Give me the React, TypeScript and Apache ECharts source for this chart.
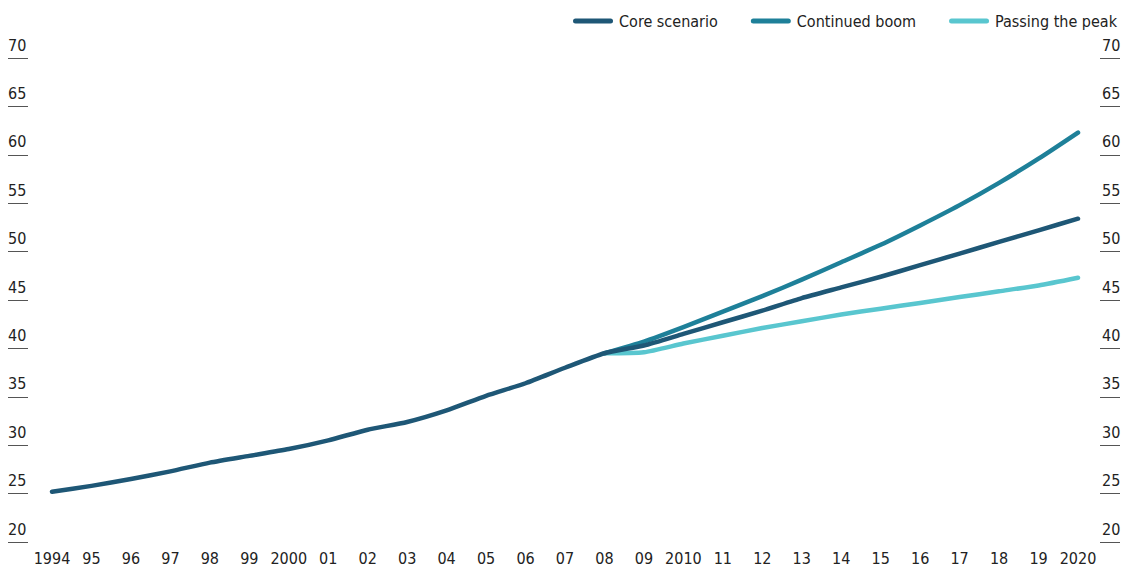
import React, { useEffect, useRef } from "react";
import * as echarts from "echarts";

const years = ["1994","95","96","97","98","99","2000","01","02","03","04","05","06","07","08","09","2010","11","12","13","14","15","16","17","18","19","2020"];

const coreScenario = [25.2,25.8,26.5,27.3,28.2,28.9,29.6,30.5,31.6,32.4,33.6,35.1,36.4,38.0,39.5,40.3,41.5,42.7,43.9,45.2,46.3,47.4,48.6,49.8,51.0,52.2,53.4];
const continuedBoom = [null,null,null,null,null,null,null,null,null,null,null,null,null,null,39.5,40.7,42.2,43.8,45.4,47.1,48.9,50.7,52.7,54.8,57.1,59.6,62.3];
const passingPeak = [null,null,null,null,null,null,null,null,null,null,null,null,null,null,39.5,39.6,40.5,41.3,42.1,42.8,43.5,44.1,44.7,45.3,45.9,46.5,47.3];

const yMin = 20;
const yMax = 70;
const yStep = 5;

const FONT = "'Liberation Sans Narrow', 'DejaVu Sans Condensed', 'Roboto Condensed', sans-serif";
const C_CORE = "#1e5776";
const C_BOOM = "#1e8099";
const C_PEAK = "#59c6cf";

const legendIcon = "path://M2.5,0 H37.5 A2.5,2.5 0 0 1 37.5,5 H2.5 A2.5,2.5 0 0 1 2.5,0 Z";

export default function App() {
  const ref = useRef<HTMLDivElement>(null);
  useEffect(() => {
    if (!ref.current) return;
    const chart = echarts.init(ref.current, null, { renderer: "svg" });
    const yAxisCommon = {
      type: "value",
      min: yMin,
      max: yMax,
      interval: yStep,
      splitLine: { show: false },
      axisLine: { show: false },
      axisTick: { show: true, length: 20, lineStyle: { color: "#555", width: 1 } },
    };
    chart.setOption({
      animation: false,
      textStyle: { fontFamily: FONT },
      legend: {
        data: ["Core scenario", "Continued boom", "Passing the peak"],
        right: 12,
        top: 8,
        itemWidth: 40,
        itemHeight: 5,
        itemGap: 33,
        icon: legendIcon,
        textStyle: { fontFamily: FONT, fontSize: 16, color: "#222", padding: [0, 0, 0, 1] },
      },
      grid: { left: 52, right: 56, top: 58, bottom: 24, containLabel: false },
      xAxis: {
        type: "category",
        data: years,
        boundaryGap: false,
        axisLine: { show: false },
        axisTick: { show: false },
        axisLabel: { fontFamily: FONT, fontSize: 16, color: "#222", margin: 8, interval: 0, verticalAlign: "top" },
      },
      yAxis: [
        {
          ...yAxisCommon,
          position: "left",
          offset: 24,
          axisLabel: { fontFamily: FONT, fontSize: 16, color: "#222", align: "left", verticalAlign: "bottom", margin: 20, padding: [0, 0, 5, 0] },
        },
        {
          ...yAxisCommon,
          position: "right",
          offset: 22,
          axisLabel: { fontFamily: FONT, fontSize: 16, color: "#222", align: "left", verticalAlign: "bottom", margin: 2, padding: [0, 0, 5, 0] },
        },
      ],
      series: [
        {
          name: "Continued boom",
          type: "line",
          data: continuedBoom,
          symbol: "none",
          smooth: 0.2,
          lineStyle: { color: C_BOOM, width: 4.5, cap: "round", join: "round" },
          itemStyle: { color: C_BOOM },
          z: 2,
        },
        {
          name: "Passing the peak",
          type: "line",
          data: passingPeak,
          symbol: "none",
          smooth: 0.2,
          lineStyle: { color: C_PEAK, width: 4.5, cap: "round", join: "round" },
          itemStyle: { color: C_PEAK },
          z: 2,
        },
        {
          name: "Core scenario",
          type: "line",
          data: coreScenario,
          symbol: "none",
          smooth: 0.2,
          lineStyle: { color: C_CORE, width: 4.5, cap: "round", join: "round" },
          itemStyle: { color: C_CORE },
          z: 3,
        },
      ],
    });
    return () => chart.dispose();
  }, []);
  return <div ref={ref} style={{ width: 1134, height: 566, position: "absolute", left: 0, top: 0 }} />;
}
